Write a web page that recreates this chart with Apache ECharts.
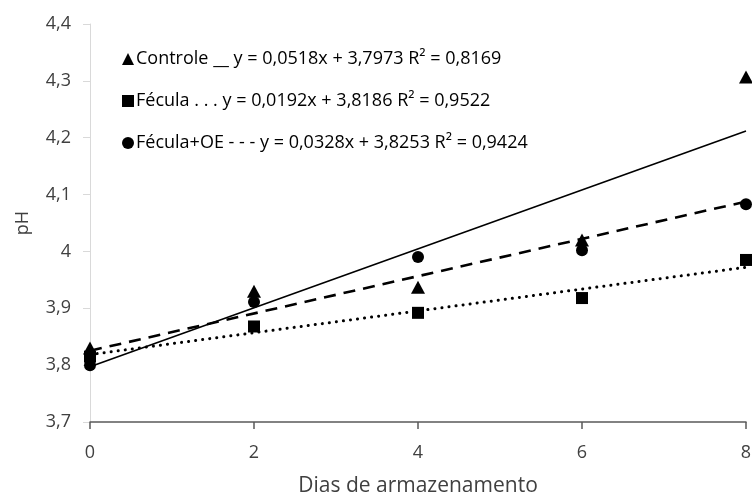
<!DOCTYPE html>
<html><head><meta charset="utf-8">
<script src="https://cdn.jsdelivr.net/npm/echarts@6/dist/echarts.min.js"></script>
<style>html,body{margin:0;padding:0;background:#fff}#c{width:752px;height:497px}</style>
</head><body><div id="c"></div>
<script>
const days = [0, 2, 4, 6, 8];
const controle = [3.830, 3.930, 3.937, 4.020, 4.307];
const fecula = [3.815, 3.868, 3.892, 3.918, 3.985];
const feculaOE = [3.800, 3.911, 3.990, 4.002, 4.083];
const slopes = [0.0518, 0.0192, 0.0328];
const intercepts = [3.7973, 3.8186, 3.8253];
const names = [
  'Controle __ y = 0,0518x + 3,7973 R² = 0,8169',
  'Fécula . . . y = 0,0192x + 3,8186 R² = 0,9522',
  'Fécula+OE - - - y = 0,0328x + 3,8253 R² = 0,9424'
];
const icons = ['triangle', 'rect', 'circle'];
const yTicks = [3.7, 3.8, 3.9, 4.0, 4.1, 4.2, 4.3, 4.4];
const trendX = [days[0], days[days.length - 1]];

const font = 'Open Sans';
const pts = arr => days.map((d, i) => [d, arr[i]]);
const trend = k => trendX.map(x => [x, intercepts[k] + slopes[k] * x]);

const legends = names.map((n, k) => ({
  data: [{ name: n, icon: icons[k] }],
  left: 117, top: 45 + 42 * k,
  itemWidth: 12, itemHeight: 12,
  textStyle: { fontFamily: font, fontSize: 18, color: '#000', padding: [0, 0, 0, -3] },
  selectedMode: false
}));

const chart = echarts.init(document.getElementById('c'));
chart.setOption({
  animation: false,
  color: ['#000'],
  grid: { left: 90, right: 6, top: 24, bottom: 75, containLabel: false, outerBoundsMode: 'none' },
  legend: legends,
  xAxis: {
    type: 'value', min: 0, max: 8, interval: 2,
    name: 'Dias de armazenamento', nameLocation: 'middle', nameGap: 54,
    nameTextStyle: { fontFamily: font, fontSize: 21, color: '#404040' },
    axisLine: { lineStyle: { color: '#595959', width: 1.5 } },
    axisTick: { show: true, length: 7, lineStyle: { color: '#595959', width: 1.5 } },
    axisLabel: { fontFamily: font, fontSize: 18, color: '#404040', margin: 22 },
    splitLine: { show: false }
  },
  yAxis: {
    type: 'value', min: yTicks[0], max: yTicks[yTicks.length - 1], interval: 0.1,
    name: 'pH', nameLocation: 'middle', nameGap: 58, nameRotate: 90,
    nameTextStyle: { fontFamily: font, fontSize: 18, color: '#404040' },
    axisLine: { show: true, lineStyle: { color: '#d9d9d9', width: 1 } },
    axisTick: { show: true, length: 7, lineStyle: { color: '#d9d9d9' } },
    axisLabel: { fontFamily: font, fontSize: 18, color: '#404040', margin: 19,
      formatter: v => String(Math.round(v * 10) / 10).replace('.', ',') },
    splitLine: { show: false }
  },
  series: [
    { name: names[0], type: 'scatter', data: pts(controle), symbol: 'triangle', symbolSize: [14, 13],
      itemStyle: { color: '#000', opacity: 1 }, clip: false, z: 3 },
    { name: names[1], type: 'scatter', data: pts(fecula), symbol: 'rect', symbolSize: 12,
      itemStyle: { color: '#000', opacity: 1 }, clip: false, z: 3 },
    { name: names[2], type: 'scatter', data: pts(feculaOE), symbol: 'circle', symbolSize: 12,
      itemStyle: { color: '#000', opacity: 1 }, clip: false, z: 4 },
    { name: names[0], type: 'line', data: trend(0), symbol: 'none', silent: true,
      itemStyle: { color: '#000' }, lineStyle: { color: '#000', width: 1.6, type: 'solid' }, z: 2 },
    { name: names[1], type: 'line', data: trend(1), symbol: 'none', silent: true,
      itemStyle: { color: '#000' }, lineStyle: { color: '#000', width: 3, type: [0.1, 7], cap: 'round' }, z: 2 },
    { name: names[2], type: 'line', data: trend(2), symbol: 'none', silent: true,
      itemStyle: { color: '#000' }, lineStyle: { color: '#000', width: 2.6, type: [12, 8] }, z: 2 }
  ]
});
</script></body></html>
